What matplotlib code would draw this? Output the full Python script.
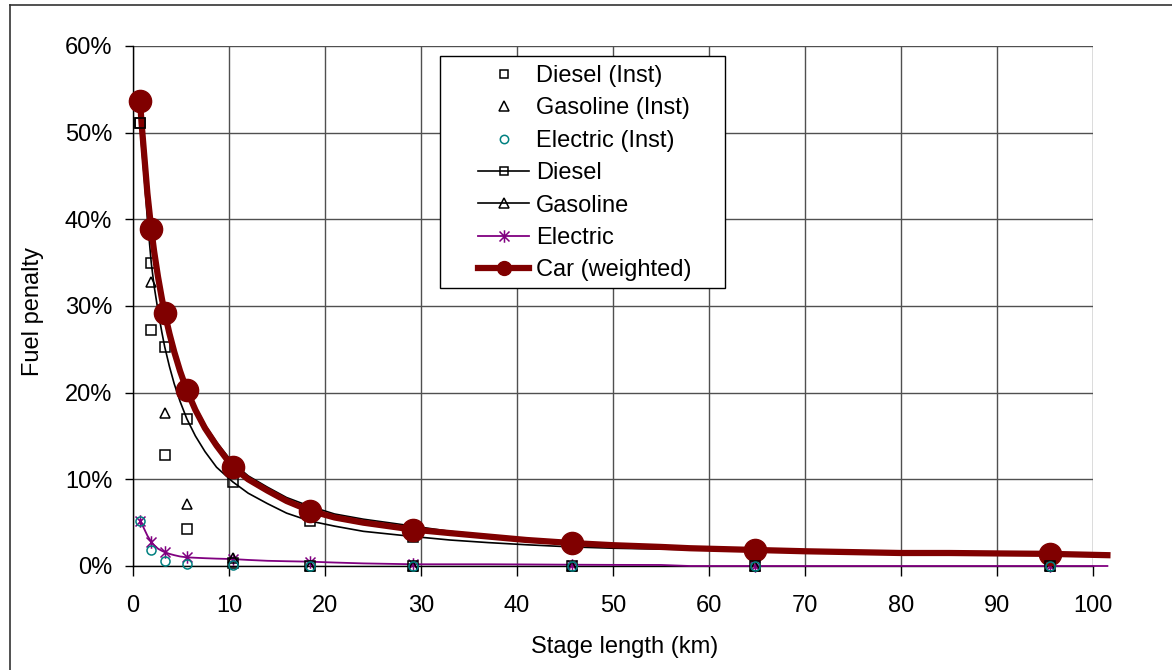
import numpy as np
import matplotlib
matplotlib.use("Agg")
import matplotlib.pyplot as plt
from matplotlib.lines import Line2D
from matplotlib.path import Path
from matplotlib.patches import Rectangle

plt.rcParams['font.family'] = ['Liberation Sans', 'DejaVu Sans']
plt.rcParams['font.size'] = 17

# stage lengths (km) where the series have their points
station_x = [0.73, 1.9, 3.3, 5.6, 10.4, 18.4, 29.2, 45.7, 64.8, 95.5]

# instantaneous penalties (%)
diesel_inst = [51.1, 27.2, 12.8, 4.3, 0.3, 0, 0, 0, 0, 0]
gasoline_inst = [53.5, 32.8, 17.6, 7.2, 0.9, 0, 0, 0, 0, 0]
electric_inst = [5.2, 1.8, 0.6, 0.2, 0.1, 0, 0, 0, 0, 0]

# curves (%)
curve_x = [0.73, 0.9, 1.2, 1.5, 1.9, 2.2, 2.6, 3.0, 3.3, 3.8, 4.3, 4.9, 5.6, 6.5, 7.5,
           8.7, 10.4, 12, 14, 16, 18.4, 21, 24, 29.2, 33, 37, 41, 45.7, 50, 55, 58,
           64.8, 70, 75, 80, 85, 90, 95.5, 101.5]
diesel = [51.1, 48.5, 44.5, 40.0, 35.0, 32.3, 29.5, 27.0, 25.3, 23.0, 21.0, 19.0, 17.0,
          15.0, 13.2, 11.4, 9.7, 8.4, 7.2, 6.1, 5.2, 4.6, 4.0, 3.4, 3.0, 2.7, 2.45, 2.2,
          2.05, 1.95, 1.9, 1.8, 1.7, 1.6, 1.5, 1.45, 1.4, 1.3, 1.2]
gasoline = [53.5, 51.0, 47.0, 43.0, 38.7, 36.2, 33.5, 31.1, 29.5, 27.1, 25.0, 22.8, 20.7,
            18.4, 16.3, 14.3, 11.9, 10.4, 9.1, 7.9, 6.9, 6.0, 5.4, 4.6, 4.0, 3.55, 3.1,
            2.7, 2.45, 2.2, 2.1, 1.9, 1.75, 1.6, 1.5, 1.5, 1.45, 1.35, 1.2]
electric = [5.2, 4.9, 4.2, 3.5, 2.8, 2.4, 2.0, 1.75, 1.6, 1.4, 1.25, 1.1, 1.0, 0.95, 0.9,
            0.85, 0.8, 0.7, 0.6, 0.55, 0.5, 0.4, 0.3, 0.2, 0.2, 0.2, 0.18, 0.15, 0.13,
            0.12, 0.0, 0.0, 0.0, 0.0, 0.0, 0.0, 0.0, 0.0, 0.0]
car = [53.7, 51.0, 47.0, 43.0, 38.9, 36.3, 33.4, 30.9, 29.2, 26.8, 24.7, 22.5, 20.3,
       18.0, 15.9, 13.9, 11.4, 10.0, 8.7, 7.5, 6.4, 5.6, 5.0, 4.2, 3.8, 3.4, 3.0, 2.65,
       2.4, 2.2, 2.05, 1.85, 1.7, 1.6, 1.5, 1.5, 1.45, 1.4, 1.25]
marks = [curve_x.index(s) for s in station_x]

x_ticks = list(range(0, 101, 10))
y_ticks = [0, 10, 20, 30, 40, 50, 60]

red = '#800000'
purple = '#800080'
teal = '#008080'

star = Path([(0, -1), (0, 1), (-0.8, -0.8), (0.8, 0.8), (-0.8, 0.8), (0.8, -0.8)],
            [Path.MOVETO, Path.LINETO, Path.MOVETO, Path.LINETO, Path.MOVETO, Path.LINETO])

fig = plt.figure(figsize=(11.72, 6.70), dpi=100)
ax = fig.add_axes([133 / 1172, 1 - 566 / 670, 960 / 1172, 520 / 670])

ax.plot(curve_x, diesel, color='black', lw=1.2, marker='s', ms=6.5, mfc='none',
        mec='black', mew=1.1, markevery=marks, clip_on=False, zorder=3)
ax.plot(curve_x, gasoline, color='black', lw=1.2, marker='^', ms=7, mfc='none',
        mec='black', mew=1.1, markevery=marks, clip_on=False, zorder=3)
ax.plot(curve_x, electric, color=purple, lw=1.3, marker=star, ms=9, mfc='none',
        mec=purple, mew=1.1, markevery=marks, clip_on=False, zorder=3)
ax.plot(station_x, gasoline_inst, ls='none', marker='^', ms=7, mfc='none', mec='black',
        mew=1.1, clip_on=False, zorder=3.5)
ax.plot(curve_x, car, color=red, lw=4.5, marker='o', ms=16, mfc=red, mec=red,
        markevery=marks, clip_on=False, zorder=4)

ax.plot(station_x, diesel_inst, ls='none', marker='s', ms=6.5, mfc='none', mec='black',
        mew=1.1, clip_on=False, zorder=5)
ax.plot(station_x, electric_inst, ls='none', marker='o', ms=6.5, mfc='none', mec=teal,
        mew=1.1, clip_on=False, zorder=5)

ax.set_xlim(0, 100)
ax.set_ylim(0, 60)
ax.set_xticks(x_ticks)
ax.set_yticks(y_ticks)
ax.set_yticklabels([f'{v}%' for v in y_ticks])
ax.grid(True, color='#505050', lw=1.0)
ax.set_axisbelow(True)
for s in ['top', 'right']:
    ax.spines[s].set_visible(False)
for s in ['left', 'bottom']:
    ax.spines[s].set_color('black')
    ax.spines[s].set_linewidth(1.0)
ax.tick_params(axis='x', length=7, width=1, pad=14)
ax.tick_params(axis='y', length=6, width=1, pad=9)

fig.text(33 / 1172, 1 - 312 / 670, 'Fuel penalty', rotation=90, ha='center', va='center')
fig.text(625 / 1172, 1 - 647 / 670, 'Stage length (km)', ha='center', va='center')

handles = [
    Line2D([], [], ls='none', marker='s', ms=6, mfc='none', mec='black', mew=1.1),
    Line2D([], [], ls='none', marker='^', ms=6.5, mfc='none', mec='black', mew=1.1),
    Line2D([], [], ls='none', marker='o', ms=6, mfc='none', mec=teal, mew=1.1),
    Line2D([], [], color='black', lw=1.2, marker='s', ms=6, mfc='none', mec='black', mew=1.1),
    Line2D([], [], color='black', lw=1.2, marker='^', ms=6.5, mfc='none', mec='black', mew=1.1),
    Line2D([], [], color=purple, lw=1.3, marker=star, ms=9, mfc='none', mec=purple, mew=1.1),
    Line2D([], [], color=red, lw=4.5, marker='o', ms=10, mfc=red, mec=red),
]
labels = ['Diesel (Inst)', 'Gasoline (Inst)', 'Electric (Inst)', 'Diesel', 'Gasoline',
          'Electric', 'Car (weighted)']
leg = fig.legend(handles, labels, loc='upper left', bbox_to_anchor=(478 / 1172, 1 - 65 / 670),
                 frameon=False, borderpad=0, borderaxespad=0, handlelength=2.16,
                 handletextpad=0.3, labelspacing=0.44, numpoints=1)
fig.patches.append(Rectangle((440 / 1172, 1 - 288 / 670), 285 / 1172, 232 / 670,
                             transform=fig.transFigure, fill=True, facecolor='white',
                             edgecolor='black', lw=1.0, zorder=1))

# outer frame of the chart
fig.add_artist(Line2D([10 / 1172, 10 / 1172], [0, 1 - 5 / 670], color='#333333', lw=1.2,
                      transform=fig.transFigure))
fig.add_artist(Line2D([10 / 1172, 1], [1 - 5 / 670, 1 - 5 / 670], color='#333333', lw=1.2,
                      transform=fig.transFigure))

fig.savefig('out.png', dpi=100)
